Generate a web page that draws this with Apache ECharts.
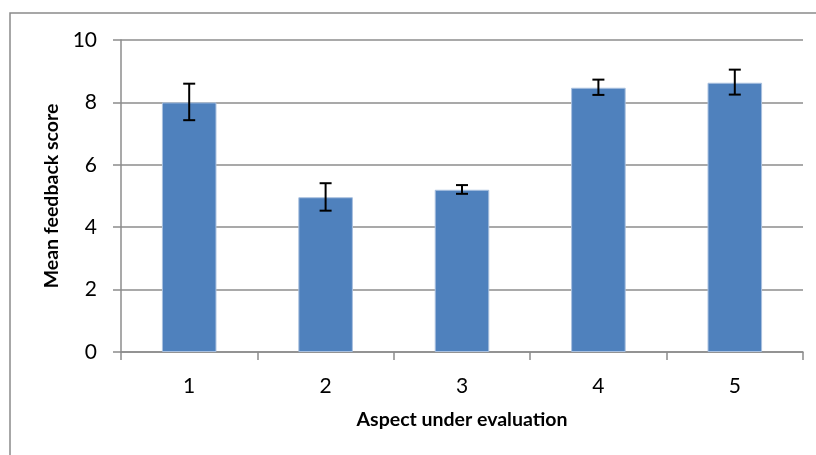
<!DOCTYPE html>
<html>
<head>
<meta charset="utf-8">
<script src="https://cdn.jsdelivr.net/npm/echarts@6/dist/echarts.min.js"></script>
<style>
html,body{margin:0;padding:0;background:#fff;}
#chart{width:816px;height:455px;}
</style>
</head>
<body>
<div id="chart"></div>
<script>
const categories = ['1', '2', '3', '4', '5'];
const meanScores = [8.0, 4.96, 5.2, 8.47, 8.63];
const errLow = [7.43, 4.53, 5.07, 8.24, 8.25];
const errHigh = [8.6, 5.41, 5.35, 8.73, 9.05];
const yTicks = [0, 2, 4, 6, 8, 10];

const errData = categories.map((c, i) => [i, errLow[i], errHigh[i]]);

const chart = echarts.init(document.getElementById('chart'), null, {renderer: 'canvas'});
const fontFam = 'Lato, "Open Sans", sans-serif';
chart.setOption({
  animation: false,
  backgroundColor: '#ffffff',
  graphic: [{
    type: 'rect',
    shape: {x: 10, y: 13, width: 900, height: 600},
    style: {fill: 'none', stroke: '#8a8a8a', lineWidth: 1.5},
    silent: true,
    z: -10
  }],
  grid: {left: 121, right: 13, top: 40, bottom: 103, containLabel: false},
  xAxis: {
    type: 'category',
    data: categories,
    name: 'Aspect under evaluation',
    nameLocation: 'middle',
    nameGap: 58,
    nameTextStyle: {fontFamily: fontFam, fontWeight: 'bold', fontSize: 19.5, color: '#000'},
    axisLine: {show: true, lineStyle: {color: '#8c8c8c', width: 1.5}},
    axisTick: {show: true, length: 8, alignWithLabel: false, lineStyle: {color: '#8c8c8c', width: 1.5}},
    axisLabel: {fontFamily: fontFam, fontSize: 21, color: '#000', margin: 24}
  },
  yAxis: {
    type: 'value',
    min: yTicks[0],
    max: yTicks[yTicks.length - 1],
    interval: 2,
    name: 'Mean feedback score',
    nameLocation: 'middle',
    nameGap: 57,
    nameTextStyle: {fontFamily: fontFam, fontWeight: 'bold', fontSize: 19.5, color: '#000'},
    axisLine: {show: true, lineStyle: {color: '#8c8c8c', width: 1.5}},
    axisTick: {show: true, length: 8, lineStyle: {color: '#8c8c8c', width: 1.5}},
    axisLabel: {fontFamily: fontFam, fontSize: 21, color: '#000', margin: 24},
    splitLine: {show: true, lineStyle: {color: '#8c8c8c', width: 1.5}}
  },
  series: [{
    type: 'bar',
    data: meanScores,
    barWidth: '40%',
    itemStyle: {color: '#4f81bd', borderColor: '#a9c0df', borderWidth: 1},
    z: 2
  }, {
    type: 'custom',
    data: errData,
    z: 3,
    renderItem: function (params, api) {
      const x = api.value(0);
      const lo = api.coord([x, api.value(1)]);
      const hi = api.coord([x, api.value(2)]);
      const hw = 6;
      const st = {stroke: '#000', lineWidth: 2};
      return {
        type: 'group',
        children: [
          {type: 'line', shape: {x1: hi[0], y1: hi[1], x2: lo[0], y2: lo[1]}, style: st},
          {type: 'line', shape: {x1: hi[0] - hw, y1: hi[1], x2: hi[0] + hw, y2: hi[1]}, style: st},
          {type: 'line', shape: {x1: lo[0] - hw, y1: lo[1], x2: lo[0] + hw, y2: lo[1]}, style: st}
        ]
      };
    }
  }]
});
</script>
</body>
</html>
